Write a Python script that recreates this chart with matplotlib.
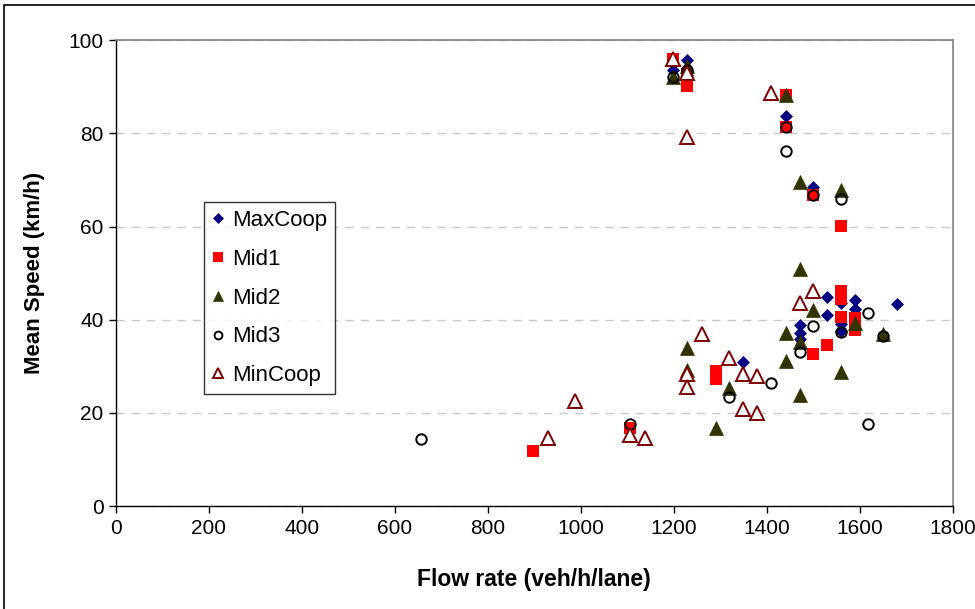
import matplotlib.pyplot as plt
from matplotlib.patches import Rectangle

plt.rcParams['font.family'] = ['Liberation Sans', 'DejaVu Sans']

# flow rate (veh/h/lane) and mean speed (km/h) for each cooperation level
maxcoop_x = [1198, 1228, 1228, 1441, 1500, 1350, 1471, 1471, 1471, 1530, 1530,
             1560, 1560, 1560, 1591, 1591, 1680]
maxcoop_y = [93.5, 95.8, 92.5, 83.8, 68.5, 30.9, 38.8, 37.1, 35.8, 44.9, 41.0,
             43.6, 39.0, 37.5, 44.2, 42.4, 43.3]

mid1_x = [1198, 1228, 1228, 1441, 1441, 1500, 1560, 1560, 1560, 1560, 1591,
          1591, 1530, 1500, 1290, 1290, 1105, 897]
mid1_y = [96.0, 92.8, 90.2, 88.2, 81.3, 66.7, 60.1, 46.2, 44.5, 40.6, 40.4,
          37.8, 34.5, 32.6, 29.0, 27.2, 16.8, 11.8]

mid2_x = [1198, 1228, 1441, 1471, 1561, 1471, 1500, 1591, 1650, 1441, 1471,
          1441, 1561, 1471, 1228, 1228, 1320, 1290]
mid2_y = [92.0, 94.5, 88.2, 69.5, 67.8, 50.8, 42.0, 39.3, 37.0, 37.2, 35.2,
          31.2, 28.8, 23.8, 34.0, 29.2, 25.3, 16.8]

mid3_x = [1198, 1228, 1441, 1441, 1500, 1561, 1617, 1500, 1560, 1650, 1471,
          1410, 1320, 1105, 1617, 656]
mid3_y = [92.0, 93.5, 81.3, 76.3, 66.7, 66.0, 41.5, 38.7, 37.3, 36.6, 33.0,
          26.4, 23.4, 17.6, 17.6, 14.4]

mincoop_x = [1198, 1228, 1228, 1410, 1500, 1471, 1260, 1320, 1228, 1228, 1350,
             1380, 1350, 1380, 987, 1105, 1138, 929]
mincoop_y = [96.0, 93.0, 79.2, 88.7, 46.1, 43.6, 37.0, 31.8, 28.4, 25.5, 28.3,
             27.9, 20.8, 20.0, 22.5, 15.2, 14.6, 14.6]

fig = plt.figure(figsize=(9.75, 6.09), dpi=100)
ax = fig.add_axes([0.119, 0.169, 0.858, 0.765])

# outer chart frame
fig.patches.append(Rectangle((0.004, -0.1), 1.2, 1.092, transform=fig.transFigure,
                             fill=False, edgecolor='black', linewidth=1.2))

ax.plot(maxcoop_x, maxcoop_y, 'D', color='#000080', markersize=6.6,
        markeredgewidth=0.5, label='MaxCoop', zorder=3)
ax.plot(mid1_x, mid1_y, 's', color='#FF0000', markersize=9,
        markeredgewidth=0, label='Mid1', zorder=3)
ax.plot(mid2_x, mid2_y, '^', color='#333300', markersize=9.5,
        markeredgewidth=0.5, label='Mid2', zorder=3)
ax.plot(mid3_x, mid3_y, 'o', markerfacecolor='none', markeredgecolor='black',
        markersize=7.5, markeredgewidth=1.4, label='Mid3', zorder=3)
ax.plot(mincoop_x, mincoop_y, '^', markerfacecolor='white', markeredgecolor='#800000',
        markersize=9.5, markeredgewidth=1.4, label='MinCoop', zorder=3)

ax.set_xlim(0, 1800)
ax.set_ylim(0, 100)
ax.set_xticks(range(0, 1801, 200))
ax.set_yticks(range(0, 101, 20))
ax.tick_params(labelsize=15, direction='out', length=5, width=1, colors='black',
               pad=4)
ax.yaxis.grid(True, linestyle=(0, (6, 5)), color='#c8c8c8', linewidth=1)
ax.set_axisbelow(True)

for side in ['top', 'right']:
    ax.spines[side].set_color('#808080')
    ax.spines[side].set_linewidth(1.2)
for side in ['left', 'bottom']:
    ax.spines[side].set_color('black')
    ax.spines[side].set_linewidth(1)

ax.set_xlabel('Flow rate (veh/h/lane)', fontsize=16.5, fontweight='bold', labelpad=22)
ax.set_ylabel('Mean Speed (km/h)', fontsize=16, fontweight='bold', labelpad=17)

leg = ax.legend(loc='upper left', bbox_to_anchor=(0.105, 0.652), fontsize=16,
                frameon=True, fancybox=False, edgecolor='black', handlelength=0.6,
                handletextpad=0.3, borderpad=0.35, labelspacing=0.8, markerscale=0.75,
                borderaxespad=0)
leg.get_frame().set_linewidth(1)

plt.savefig('out.png', dpi=100)
